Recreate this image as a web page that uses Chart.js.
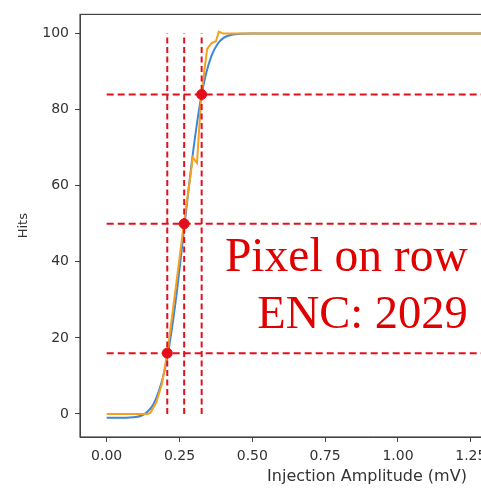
<!DOCTYPE html>
<html>
<head>
<meta charset="utf-8">
<script src="https://cdn.jsdelivr.net/npm/chart.js@4"></script>
<style>
html, body { margin: 0; padding: 0; overflow: hidden; background: #fff; width: 481px; height: 488px; }
canvas { display: block; }
</style>
</head>
<body>
<canvas id="c" width="680" height="488"></canvas>
<script>
// Fitted S-curve (blue)
const fitX = [0, 0.05, 0.10, 0.12, 0.14, 0.16, 0.18, 0.20, 0.22, 0.24, 0.26, 0.28, 0.30, 0.32, 0.34, 0.36, 0.38, 0.40, 0.42, 0.45, 0.50, 0.60, 1.00, 1.50, 1.83];
const fitHits = [-1, -1, -0.8, -0.4, 0.6, 2.5, 6.2, 11.8, 20.4, 31.6, 44.7, 58.3, 70.9, 81.4, 89.1, 94.2, 97.2, 98.8, 99.5, 99.9, 100, 100, 100, 100, 100];
// Measured hits (orange)
const dataX = [0, 0.05, 0.10, 0.14, 0.15, 0.17, 0.19, 0.21, 0.23, 0.25, 0.27, 0.29, 0.295, 0.31, 0.325, 0.345, 0.36, 0.375, 0.385, 0.40, 0.50, 1.00, 1.50, 1.83];
const dataHits = [0, 0, 0, 0, 0.3, 3, 8, 17, 29, 41, 53, 64, 67.5, 66, 84, 96, 97.5, 98, 100.5, 100, 100, 100, 100, 100];
// Threshold markers: amplitude at 16 / 50 / 84 % hits
const markerX = [0.208, 0.266, 0.326];
const markerHits = [16, 50, 84];
const hlineEndX = 1.83;
// Tick labels
const xTickValues = [0, 0.25, 0.5, 0.75, 1.0, 1.25, 1.5, 1.75];
const yTickValues = [0, 20, 40, 60, 80, 100];
const xTitle = 'Injection Amplitude (mV)';
const yTitle = 'Hits';
const noteLines = ['Pixel on row', 'ENC: 2029'];

const RED = '#e3101c';
const pts = (xs, ys) => xs.map((x, i) => ({x: x, y: ys[i]}));

const datasets = [];
datasets.push({
  label: 'markers', data: pts(markerX, markerHits), showLine: false,
  pointRadius: 5, pointBackgroundColor: RED, pointBorderColor: RED, order: 0
});
markerX.forEach((x, i) => {
  datasets.push({
    data: [{x: x, y: 0}, {x: x, y: 100}], borderColor: RED, borderWidth: 2,
    borderDash: [6, 3.5], pointRadius: 0, order: 1
  });
});
markerHits.forEach((h) => {
  datasets.push({
    data: [{x: 0, y: h}, {x: hlineEndX, y: h}], borderColor: RED, borderWidth: 2,
    borderDash: [7, 4], pointRadius: 0, order: 1
  });
});
datasets.push({
  label: 'data', data: pts(dataX, dataHits), borderColor: '#f5a01e', borderWidth: 2,
  pointRadius: 0, tension: 0, order: 2
});
datasets.push({
  label: 'fit', data: pts(fitX, fitHits), borderColor: '#3f86d6', borderWidth: 2,
  pointRadius: 0, cubicInterpolationMode: 'monotone', order: 3
});

const TXT = '#333';
const tickFont = {family: 'DejaVu Sans', size: 14};

const overlay = {
  id: 'overlay',
  afterDraw(chart) {
    const ctx = chart.ctx, a = chart.chartArea;
    const xs = chart.scales.x, ys = chart.scales.y;
    ctx.save();
    ctx.strokeStyle = '#444';
    ctx.lineWidth = 1.2;
    ctx.strokeRect(a.left, a.top, a.right - a.left, a.bottom - a.top);
    // annotation text
    ctx.fillStyle = '#e00000';
    ctx.font = '47.5px "Liberation Serif", "Times New Roman", serif';
    ctx.textBaseline = 'alphabetic';
    ctx.textAlign = 'left';
    ctx.fillText(noteLines[0], xs.getPixelForValue(0.406), ys.getPixelForValue(37.5));
    ctx.font = '46.5px "Liberation Serif", "Times New Roman", serif';
    ctx.fillText(noteLines[1], xs.getPixelForValue(0.517), ys.getPixelForValue(22.7));
    // axis titles
    ctx.fillStyle = TXT;
    ctx.font = '16px "DejaVu Sans"';
    ctx.textAlign = 'center';
    ctx.textBaseline = 'middle';
    ctx.fillText(xTitle, 367, 477);
    ctx.translate(24, (a.top + a.bottom) / 2);
    ctx.rotate(-Math.PI / 2);
    ctx.font = '13px "DejaVu Sans"';
    ctx.fillText(yTitle, 0, 0);
    ctx.restore();
  }
};

new Chart(document.getElementById('c'), {
  type: 'line',
  data: {datasets: datasets},
  options: {
    responsive: false,
    animation: false,
    layout: {padding: {top: 10, right: 14, left: 0, bottom: 0}},
    plugins: {legend: {display: false}, tooltip: {enabled: false}},
    scales: {
      x: {
        type: 'linear', min: -0.0916, max: 1.92,
        afterBuildTicks: s => { s.ticks = xTickValues.map(v => ({value: v})); },
        afterFit: s => { s.height = 51; },
        ticks: {font: tickFont, color: TXT, padding: 6, maxRotation: 0, autoSkip: false,
                callback: v => Number(v).toFixed(2)},
        grid: {drawOnChartArea: false, drawTicks: true, tickLength: 5, color: '#444'},
        border: {display: true, color: '#444'}
      },
      y: {
        type: 'linear', min: -6.05, max: 105.05,
        afterBuildTicks: s => { s.ticks = yTickValues.map(v => ({value: v})); },
        afterFit: s => { s.width = 80; },
        ticks: {font: tickFont, color: TXT, padding: 6, autoSkip: false,
                callback: v => String(v)},
        grid: {drawOnChartArea: false, drawTicks: true, tickLength: 5, color: '#444'},
        border: {display: true, color: '#444'}
      }
    }
  },
  plugins: [overlay]
});
</script>
</body>
</html>
